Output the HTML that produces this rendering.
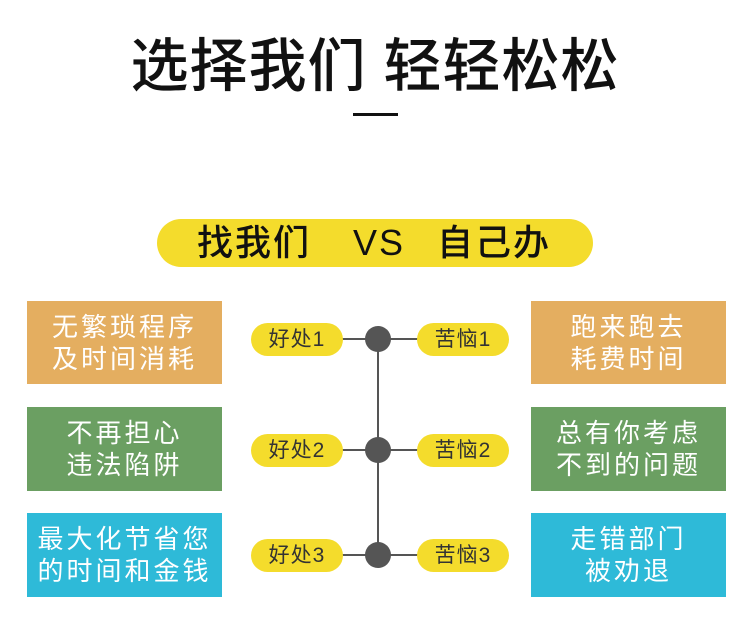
<!DOCTYPE html>
<html><head><meta charset="utf-8"><style>
*{margin:0;padding:0;box-sizing:border-box}
body{width:750px;height:626px;background:#fff;position:relative;overflow:hidden;font-family:"Liberation Sans","Noto Sans CJK SC",sans-serif}
.a{position:absolute}
.title{left:0;width:750px;top:32px;text-align:center;font-size:58px;font-weight:500;color:#111;letter-spacing:1px;line-height:70px;white-space:nowrap}
.dash{left:353px;top:113px;width:45px;height:3px;background:#111}
.pill{left:157px;top:219px;width:436px;height:48px;border-radius:24px;background:#f4dc2c;color:#111;font-weight:500;white-space:nowrap}
.pill span{position:absolute;top:0;font-size:36px;line-height:48px;letter-spacing:2px}
.box{width:195px;display:flex;align-items:center;justify-content:center;text-align:center;color:#fff;font-size:26px;line-height:32px;letter-spacing:3px}
.or{background:#e4ae60}.gr{background:#6b9f62}.cy{background:#2ebad8}
.sp{width:92px;height:33px;border-radius:17px;background:#f4dc2c;text-align:center;font-size:21px;line-height:33px;color:#333;letter-spacing:1px}
.dot{width:26px;height:26px;border-radius:13px;background:#555}
.hl{height:2px;background:#555}
</style></head><body>
<div class="a title">选择我们 轻轻松松</div>
<div class="a dash"></div>
<div class="a pill"><span style="left:40px">找我们</span><span style="left:196px;font-weight:400">VS</span><span style="left:280px">自己办</span></div>

<div class="a" style="left:377px;top:339px;width:2px;height:216px;background:#555"></div>

<div class="a box or" style="left:27px;top:301px;height:83px">无繁琐程序<br>及时间消耗</div>
<div class="a box gr" style="left:27px;top:407px;height:84px">不再担心<br>违法陷阱</div>
<div class="a box cy" style="left:27px;top:513px;height:84px">最大化节省您<br>的时间和金钱</div>
<div class="a box or" style="left:531px;top:301px;height:83px">跑来跑去<br>耗费时间</div>
<div class="a box gr" style="left:531px;top:407px;height:84px">总有你考虑<br>不到的问题</div>
<div class="a box cy" style="left:531px;top:513px;height:84px">走错部门<br>被劝退</div>

<div class="a hl" style="left:340px;top:338px;width:80px"></div>
<div class="a hl" style="left:340px;top:449px;width:80px"></div>
<div class="a hl" style="left:340px;top:554px;width:80px"></div>

<div class="a sp" style="left:251px;top:323px">好处1</div>
<div class="a sp" style="left:417px;top:323px">苦恼1</div>
<div class="a sp" style="left:251px;top:434px">好处2</div>
<div class="a sp" style="left:417px;top:434px">苦恼2</div>
<div class="a sp" style="left:251px;top:539px">好处3</div>
<div class="a sp" style="left:417px;top:539px">苦恼3</div>

<div class="a dot" style="left:365px;top:326px"></div>
<div class="a dot" style="left:365px;top:437px"></div>
<div class="a dot" style="left:365px;top:542px"></div>
</body></html>
